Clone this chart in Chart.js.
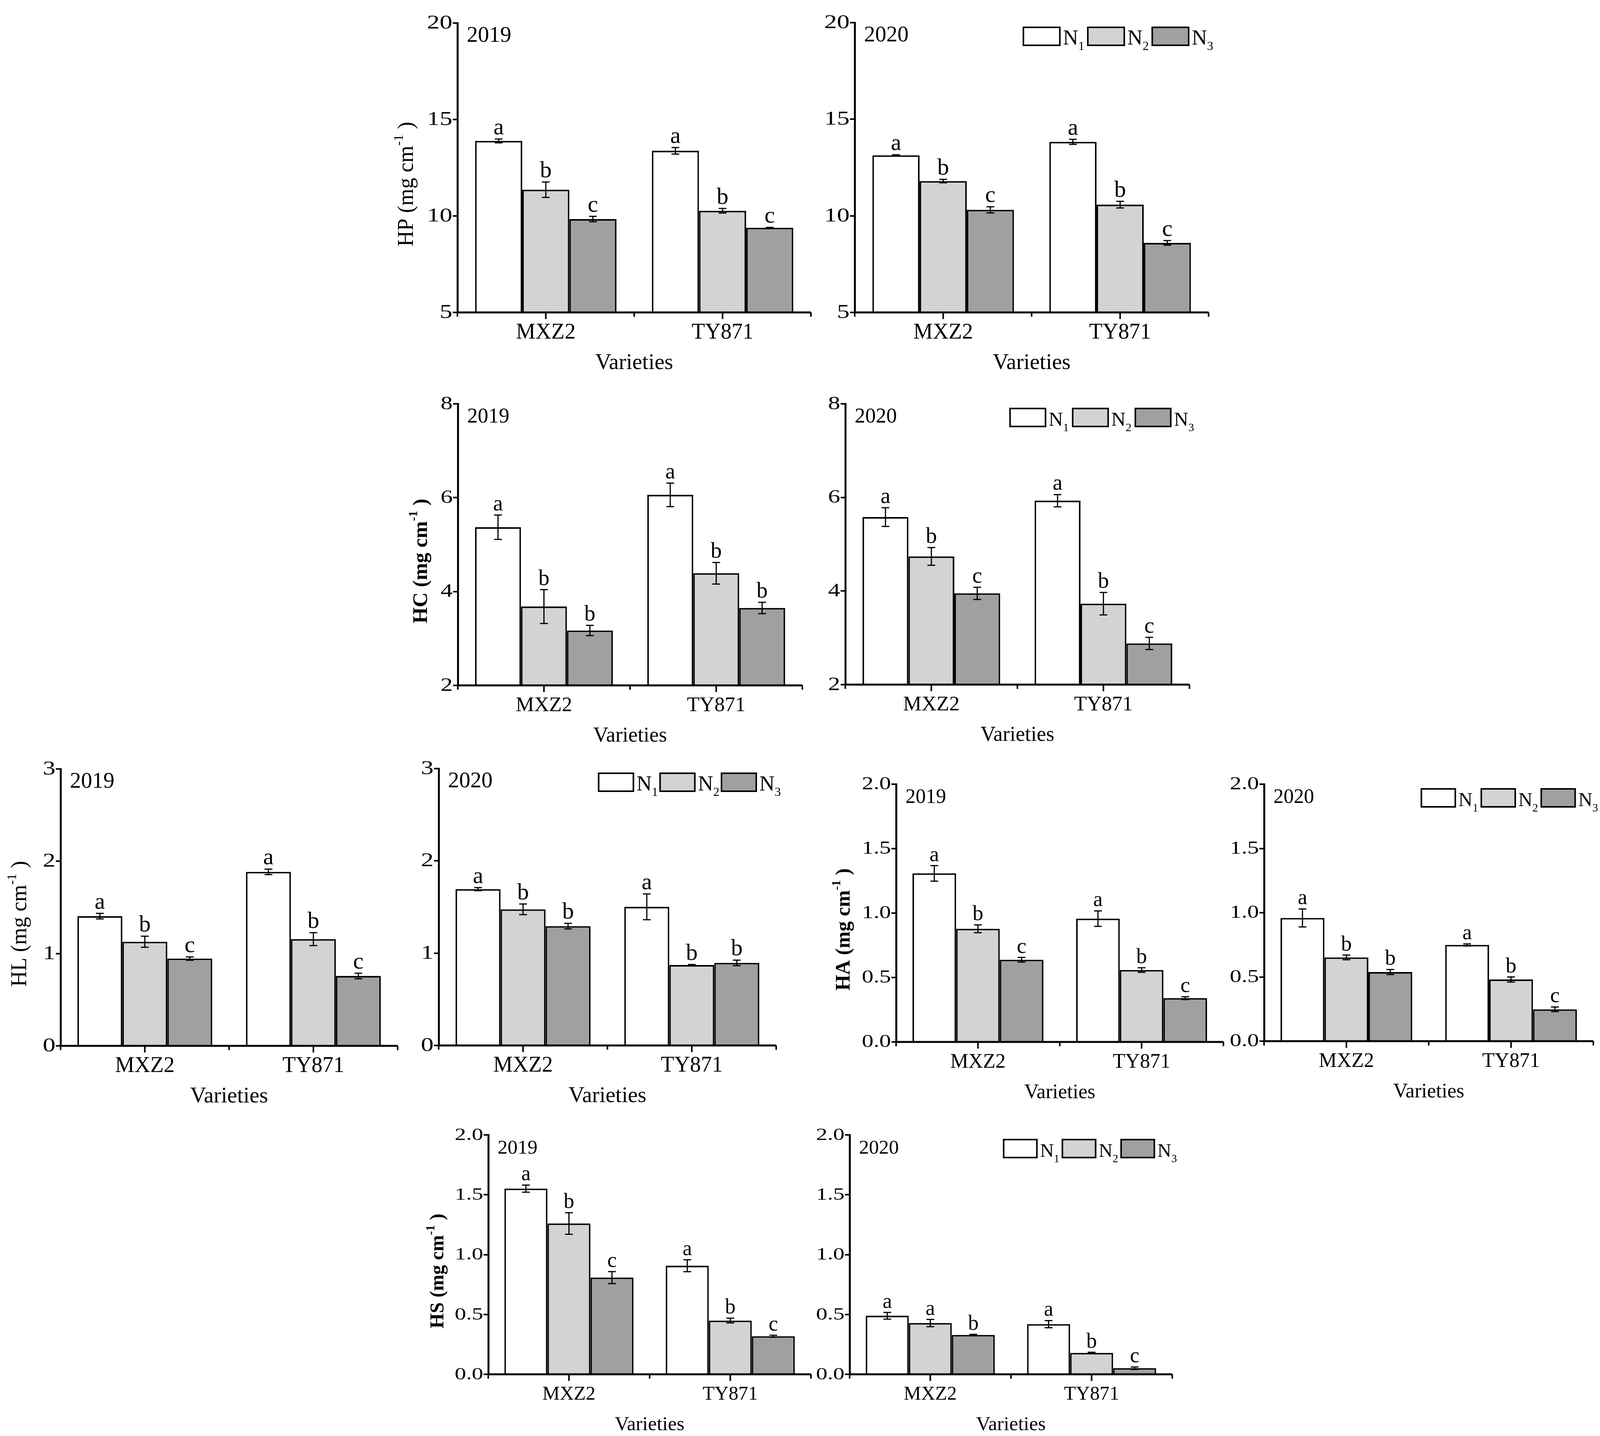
<!DOCTYPE html>
<html>
<head>
<meta charset="utf-8">
<script src="https://cdn.jsdelivr.net/npm/chart.js@4.4.0/dist/chart.umd.min.js"></script>
<style>
    html, body { margin: 0; padding: 0; background: #fff; overflow: hidden; }
    #page { position: relative; height: 3677px; overflow: hidden; background: #fff; }
    canvas { position: absolute; }
</style>
</head>
<body>
<div id="page"></div>
<script>
const varieties = ['MXZ2', 'TY871'];
const treatments = ['1', '2', '3'];

// Each series array is [N1, N2, N3], each of those [MXZ2, TY871]
const hpTicks = [5, 10, 15, 20];
const hp2019 = [[13.89, 13.38], [11.36, 10.27], [9.84, 9.39]];
const hp2019Err = [[0.10, 0.17], [0.40, 0.12], [0.14, 0.02]];
const hp2019Sig = [['a', 'a'], ['b', 'b'], ['c', 'c']];
const hp2020 = [[13.13, 13.83], [11.80, 10.58], [10.31, 8.60]];
const hp2020Err = [[0.03, 0.13], [0.09, 0.17], [0.16, 0.12]];
const hp2020Sig = [['a', 'a'], ['b', 'b'], ['c', 'c']];

const hcTicks = [2, 4, 6, 8];
const hc2019 = [[5.37, 6.06], [3.68, 4.39], [3.17, 3.65]];
const hc2019Err = [[0.26, 0.25], [0.36, 0.23], [0.11, 0.12]];
const hc2019Sig = [['a', 'a'], ['b', 'b'], ['b', 'b']];
const hc2020 = [[5.58, 5.93], [4.74, 3.73], [3.95, 2.88]];
const hc2020Err = [[0.20, 0.13], [0.19, 0.24], [0.13, 0.13]];
const hc2020Sig = [['a', 'a'], ['b', 'b'], ['c', 'c']];

const hlTicks = [0, 1, 2, 3];
const hl2019 = [[1.405, 1.885], [1.128, 1.156], [0.946, 0.757]];
const hl2019Err = [[0.03, 0.03], [0.06, 0.07], [0.018, 0.03]];
const hl2019Sig = [['a', 'a'], ['b', 'b'], ['c', 'c']];
const hl2020 = [[1.694, 1.502], [1.475, 0.872], [1.293, 0.895]];
const hl2020Err = [[0.017, 0.14], [0.058, 0.005], [0.03, 0.03]];
const hl2020Sig = [['a', 'a'], ['b', 'b'], ['b', 'b']];

const haTicks = [0, 0.5, 1.0, 1.5, 2.0];
const ha2019 = [[1.308, 0.957], [0.878, 0.558], [0.638, 0.340]];
const ha2019Err = [[0.06, 0.06], [0.03, 0.018], [0.018, 0.011]];
const ha2019Sig = [['a', 'a'], ['b', 'b'], ['c', 'c']];
const ha2020 = [[0.959, 0.749], [0.652, 0.480], [0.538, 0.248]];
const ha2020Err = [[0.07, 0.008], [0.018, 0.02], [0.02, 0.018]];
const ha2020Sig = [['a', 'a'], ['b', 'b'], ['b', 'c']];

const hsTicks = [0, 0.5, 1.0, 1.5, 2.0];
const hs2019 = [[1.551, 0.907], [1.260, 0.449], [0.808, 0.318]];
const hs2019Err = [[0.03, 0.05], [0.09, 0.02], [0.05, 0.008]];
const hs2019Sig = [['a', 'a'], ['b', 'b'], ['c', 'c']];
const hs2020 = [[0.489, 0.419], [0.428, 0.179], [0.329, 0.051]];
const hs2020Err = [[0.028, 0.03], [0.03, 0.005], [0.005, 0.01]];
const hs2020Sig = [['a', 'a'], ['a', 'b'], ['b', 'c']];

const FONT = '"Liberation Serif", "Times New Roman", serif';
const fills = ['#ffffff', '#d3d3d3', '#a0a0a0'];

// plot area boxes [left, top, right, bottom] in reference pixels
const panels = [
    { title: 'HP', bold: false, year: '2019', ticks: hpTicks, dec: false, values: hp2019, err: hp2019Err, sig: hp2019Sig, box: [1215, 59, 2154, 800], titleOff: 139, f: 1.0 },
    { title: null, year: '2020', ticks: hpTicks, dec: false, values: hp2020, err: hp2020Err, sig: hp2020Sig, box: [2270, 58, 3210, 800], legend: true, f: 1.0 },
    { title: 'HC', bold: true, year: '2019', ticks: hcTicks, dec: false, values: hc2019, err: hc2019Err, sig: hc2019Sig, box: [1216, 1034, 2131, 1755], titleOff: 102, f: 0.95 },
    { title: null, year: '2020', ticks: hcTicks, dec: false, values: hc2020, err: hc2020Err, sig: hc2020Sig, box: [2245, 1034, 3159, 1753], legend: true, f: 0.95 },
    { title: 'HL', bold: false, year: '2019', ticks: hlTicks, dec: false, values: hl2019, err: hl2019Err, sig: hl2019Sig, box: [161, 1969, 1056, 2678], titleOff: 112, f: 1.0 },
    { title: null, year: '2020', ticks: hlTicks, dec: false, values: hl2020, err: hl2020Err, sig: hl2020Sig, box: [1165, 1968, 2062, 2677], legend: true, f: 1.0 },
    { title: 'HA', bold: true, year: '2019', ticks: haTicks, dec: true, values: ha2019, err: ha2019Err, sig: ha2019Sig, box: [2380, 2008, 3250, 2668], titleOff: 143, f: 0.92 },
    { title: null, year: '2020', ticks: haTicks, dec: true, values: ha2020, err: ha2020Err, sig: ha2020Sig, box: [3358, 2008, 4232, 2666], legend: true, f: 0.92 },
    { title: 'HS', bold: true, year: '2019', ticks: hsTicks, dec: true, values: hs2019, err: hs2019Err, sig: hs2019Sig, box: [1297, 2906, 2154, 3519], titleOff: 138, f: 0.9 },
    { title: null, year: '2020', ticks: hsTicks, dec: true, values: hs2020, err: hs2020Err, sig: hs2020Sig, box: [2257, 2906, 3114, 3519], legend: true, f: 0.9 },
];

// the window may be narrower than the 4250 px figure: squeeze x positions to fit
const sx = Math.min(1, window.innerWidth / 4250);
const L = 200, T = 40, R = 60, B = 200;

/**
 * Overlay plugin: y tick labels, error bars, letters, x axis, year, legend, y title
 */
function overlay(p) {
    return {
        id: 'overlay',
        afterDraw(chart) {
            const ctx = chart.ctx;
            const area = chart.chartArea;
            const xs = chart.scales.x, ys = chart.scales.y;
            const f = p.f;
            ctx.save();
            ctx.fillStyle = '#000';
            ctx.strokeStyle = '#000';

            // y tick labels (the figure uses a wide, stretched Times)
            ctx.font = `${Math.round(50 * f)}px ${FONT}`;
            ctx.textAlign = 'right';
            ctx.textBaseline = 'middle';
            ys.ticks.forEach((t) => {
                const py = ys.getPixelForValue(t.value);
                ctx.save();
                ctx.translate(area.left - 13, py + 1);
                ctx.scale(1.3, 1);
                ctx.fillText(p.dec ? t.value.toFixed(1) : String(t.value), 0, 0);
                ctx.restore();
            });

            // error bars + significance letters
            chart.data.datasets.forEach((ds, i) => {
                chart.getDatasetMeta(i).data.forEach((bar, j) => {
                    const v = ds.data[j], e = ds.err[j];
                    const yt = ys.getPixelForValue(v + e);
                    const yb = ys.getPixelForValue(v - e);
                    ctx.lineWidth = 3;
                    ctx.beginPath();
                    ctx.moveTo(bar.x, yt); ctx.lineTo(bar.x, yb);
                    ctx.moveTo(bar.x - 10, yt); ctx.lineTo(bar.x + 10, yt);
                    ctx.moveTo(bar.x - 10, yb); ctx.lineTo(bar.x + 10, yb);
                    ctx.stroke();
                    ctx.font = `${Math.round(60 * f)}px ${FONT}`;
                    ctx.textAlign = 'center';
                    ctx.textBaseline = 'alphabetic';
                    ctx.fillText(ds.sig[j], bar.x, yt - 12);
                });
            });

            // x axis
            const y0 = area.bottom;
            ctx.lineWidth = 5;
            ctx.beginPath();
            ctx.moveTo(area.left - 2, y0);
            ctx.lineTo(area.right, y0);
            ctx.stroke();
            const half = (xs.getPixelForValue(1) - xs.getPixelForValue(0)) / 2;
            ctx.lineWidth = 4;
            ctx.beginPath();
            chart.data.labels.forEach((lab, i) => {
                const cx = xs.getPixelForValue(i);
                ctx.moveTo(cx, y0); ctx.lineTo(cx, y0 + 17);
                ctx.moveTo(cx - half, y0); ctx.lineTo(cx - half, y0 + 11);
                ctx.moveTo(cx + half, y0); ctx.lineTo(cx + half, y0 + 11);
            });
            ctx.stroke();
            ctx.textAlign = 'center';
            ctx.textBaseline = 'middle';
            ctx.font = `${Math.round(56 * f)}px ${FONT}`;
            chart.data.labels.forEach((lab, i) => {
                ctx.fillText(lab, xs.getPixelForValue(i), y0 + 52);
            });
            ctx.font = `${Math.round(57 * f)}px ${FONT}`;
            ctx.fillText('Varieties', (area.left + area.right) / 2, y0 + 130);

            // year
            ctx.textAlign = 'left';
            ctx.textBaseline = 'alphabetic';
            ctx.font = `${Math.round(57 * f)}px ${FONT}`;
            ctx.fillText(p.year, area.left + 24, area.top + 48);

            // legend
            if (p.legend) {
                const w = area.right - area.left;
                const sp = 0.182 * w, bw = 0.103 * w, bh = 46;
                const nFont = `${Math.round(54 * f)}px ${FONT}`;
                const sFont = `${Math.round(32 * f)}px ${FONT}`;
                ctx.font = nFont;
                const nW = ctx.measureText('N').width;
                ctx.font = sFont;
                const sW = ctx.measureText('3').width;
                const left0 = area.right + 12 - (2 * sp + bw + 8 + nW + sW);
                const top = area.top + 12;
                treatments.forEach((t, i) => {
                    const bx = left0 + i * sp;
                    ctx.fillStyle = fills[i];
                    ctx.fillRect(bx, top, bw, bh);
                    ctx.lineWidth = 4;
                    ctx.strokeRect(bx, top, bw, bh);
                    ctx.fillStyle = '#000';
                    ctx.font = nFont;
                    ctx.fillText('N', bx + bw + 8, top + bh - 2);
                    ctx.font = sFont;
                    ctx.fillText(t, bx + bw + 8 + nW, top + bh + 12);
                });
            }

            // y title with superscript
            if (p.title) {
                const wt = p.bold ? 'bold ' : '';
                const mFont = `${wt}${Math.round(56 * f)}px ${FONT}`;
                const supFont = `${wt}${Math.round(34 * f)}px ${FONT}`;
                const a = `${p.title} (mg cm`, s = '-1', b = ' )';
                ctx.font = mFont;
                const wa = ctx.measureText(a).width, wb = ctx.measureText(b).width;
                ctx.font = supFont;
                const ws = ctx.measureText(s).width;
                const total = wa + ws + wb;
                ctx.translate(area.left - p.titleOff * sx, (area.top + area.bottom) / 2 + 42);
                ctx.rotate(-Math.PI / 2);
                ctx.textAlign = 'left';
                ctx.textBaseline = 'alphabetic';
                const base = 20 * f;
                let x = -total / 2;
                ctx.font = mFont;
                ctx.fillText(a, x, base);
                x += wa;
                ctx.font = supFont;
                ctx.fillText(s, x, base - 26 * f);
                x += ws;
                ctx.font = mFont;
                ctx.fillText(b, x, base);
            }
            ctx.restore();
        },
    };
}

const page = document.getElementById('page');
page.style.width = Math.round(4250 * sx) + 'px';

panels.forEach((p) => {
    const x0 = Math.round(p.box[0] * sx), x1 = Math.round(p.box[2] * sx);
    const y0 = p.box[1], y1 = p.box[3];
    const w = L + (x1 - x0) + R, h = T + (y1 - y0) + B;
    const c = document.createElement('canvas');
    c.width = w; c.height = h;
    c.style.left = (x0 - L) + 'px';
    c.style.top = (y0 - T) + 'px';
    c.style.width = w + 'px';
    c.style.height = h + 'px';
    page.appendChild(c);

    const yMin = p.ticks[0], yMax = p.ticks[p.ticks.length - 1];
    new Chart(c, {
        type: 'bar',
        data: {
            labels: varieties,
            datasets: p.values.map((vals, i) => ({
                label: 'N' + treatments[i],
                data: vals,
                err: p.err[i],
                sig: p.sig[i],
                base: yMin,
                backgroundColor: fills[i],
                borderColor: '#000',
                borderWidth: 4,
                barPercentage: 1.0,
                categoryPercentage: 0.8,
            })),
        },
        plugins: [overlay(p)],
        options: {
            responsive: false,
            animation: false,
            devicePixelRatio: 1,
            layout: { padding: { left: 0, top: T, right: R, bottom: B } },
            plugins: { legend: { display: false }, tooltip: { enabled: false } },
            scales: {
                x: { display: false, offset: true },
                y: {
                    min: yMin,
                    max: yMax,
                    ticks: { stepSize: p.ticks[1] - p.ticks[0], display: false },
                    grid: {
                        drawOnChartArea: false,
                        drawTicks: true,
                        tickLength: 12,
                        color: '#000',
                        lineWidth: 4,
                    },
                    border: { display: true, color: '#000', width: 5 },
                    afterFit(scale) { scale.width = L; },
                },
            },
        },
    });
});
</script>
</body>
</html>
